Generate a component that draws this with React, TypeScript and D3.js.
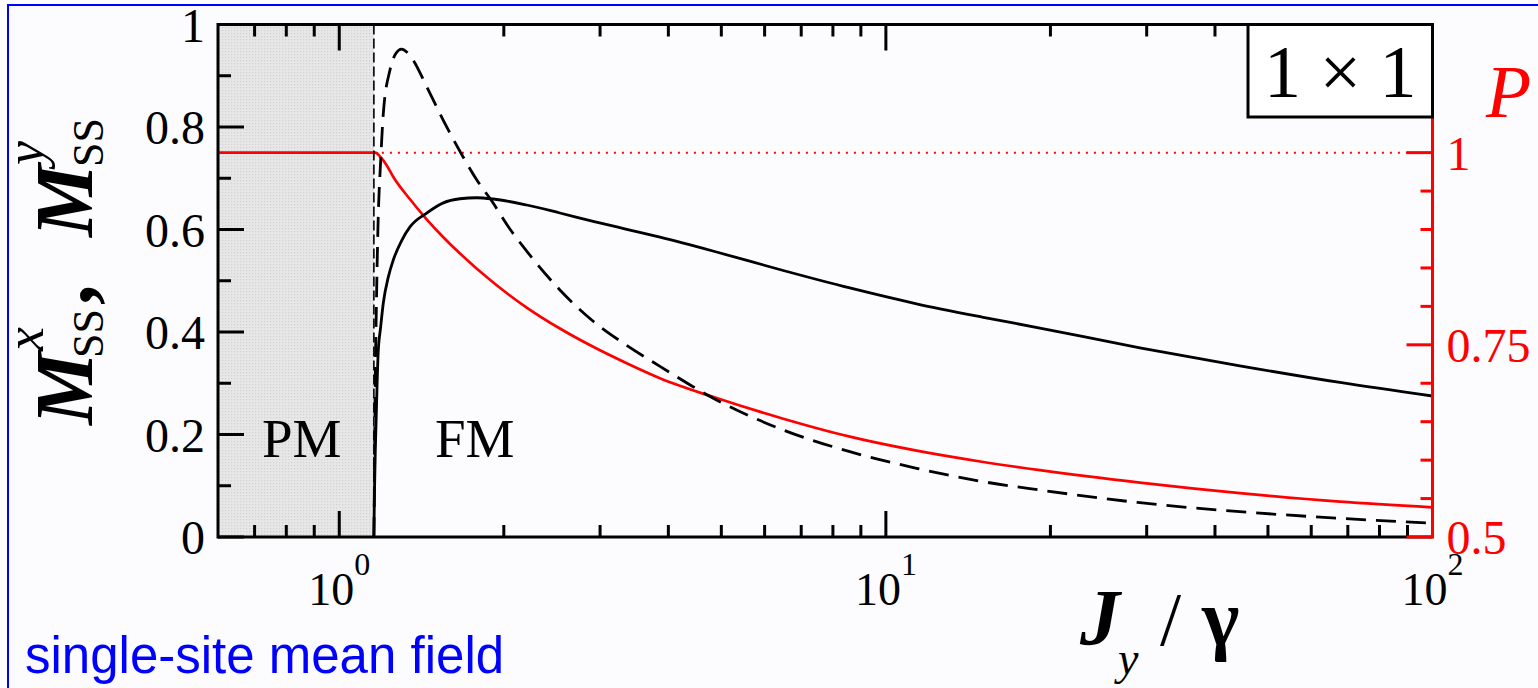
import React from 'react';
import * as d3 from 'd3';

const WIDTH = 1538;
const HEIGHT = 688;
const PLOT = { left: 218, right: 1432.5, top: 24.5, bottom: 537 };

// Horizontal axis: coupling ratio J_y / gamma (log scale)
const jDomain: [number, number] = [0.6, 100];
// Transition between the paramagnetic (PM) and ferromagnetic (FM) phases
const jCritical = 1.157;

// Steady-state magnetisation M^x_SS (solid black)
const mxJ = [1.157, 1.16, 1.164, 1.168, 1.178, 1.19, 1.204, 1.23, 1.255, 1.3, 1.347, 1.445, 1.55, 1.663, 1.784, 1.913, 2.202, 2.533, 2.914, 3.356, 3.861, 4.9, 6.49, 8.59, 11.38, 15.07, 19.13, 29.15, 44.41, 67.69, 100];
const mxValues = [0, 0.09, 0.17, 0.228, 0.359, 0.408, 0.457, 0.508, 0.54, 0.578, 0.605, 0.632, 0.652, 0.66, 0.662, 0.6595, 0.6478, 0.6322, 0.616, 0.6004, 0.585, 0.5561, 0.52, 0.4859, 0.455, 0.4287, 0.4078, 0.3692, 0.334, 0.3015, 0.2751];

// Steady-state magnetisation M^y_SS (dashed black)
const myJ = [1.157, 1.16, 1.162, 1.171, 1.178, 1.19, 1.204, 1.238, 1.27, 1.3, 1.33, 1.364, 1.445, 1.55, 1.684, 1.784, 1.9, 2.052, 2.202, 2.533, 2.914, 3.356, 3.861, 4.9, 6.49, 8.59, 11.38, 15.07, 19.13, 29.15, 44.41, 67.69, 100];
const myValues = [0, 0.12, 0.228, 0.49, 0.619, 0.73, 0.827, 0.911, 0.944, 0.952, 0.946, 0.931, 0.879, 0.813, 0.742, 0.697, 0.656, 0.601, 0.558, 0.482, 0.421, 0.374, 0.333, 0.2673, 0.2088, 0.1665, 0.1341, 0.1079, 0.0917, 0.0669, 0.0494, 0.0365, 0.0267];

// Purity P of the steady state (red, right axis)
const purityJ = [0.6, 1.162, 1.172, 1.187, 1.22, 1.255, 1.347, 1.445, 1.55, 1.663, 1.913, 2.202, 2.533, 2.914, 3.356, 3.861, 4.9, 6.49, 8.59, 11.38, 15.07, 19.13, 29.15, 44.41, 67.69, 100];
const purityValues = [1, 1, 0.9992, 0.995, 0.984, 0.9686, 0.9393, 0.9133, 0.89, 0.8687, 0.831, 0.7985, 0.7712, 0.7474, 0.726, 0.7065, 0.6807, 0.6539, 0.6305, 0.6123, 0.5976, 0.5869, 0.5707, 0.557, 0.5459, 0.5385];

// Axis ticks
const leftMajorTicks = [0, 0.2, 0.4, 0.6, 0.8, 1];
const leftMinorTicks = [0.1, 0.3, 0.5, 0.7, 0.9];
const leftTickLabels = ['0', '0.2', '0.4', '0.6', '0.8', '1'];
const rightMajorTicks = [0.5, 0.75, 1];
const rightTickLabels = ['0.5', '0.75', '1'];
const rightMinorTicks = [0.55, 0.6, 0.65, 0.7, 0.8, 0.85, 0.9, 0.95, 1.05, 1.1, 1.15];
const xDecadeExponents = [0, 1, 2];

const SERIF = "'Liberation Serif', 'Times New Roman', serif";
const SANS = "'Liberation Sans', Arial, sans-serif";
const RED = '#ff0000';

export default function App() {
  const x = d3.scaleLog().domain(jDomain).range([PLOT.left, PLOT.right]);
  const yM = d3.scaleLinear().domain([0, 1]).range([PLOT.bottom, PLOT.top]);
  // Right axis: P = 1 sits level with M = 0.75, P = 0.5 with M = 0
  const yP = d3.scaleLinear().domain([0.5, 0.5 + 2 / 3]).range([PLOT.bottom, PLOT.top]);

  const lineM = d3
    .line<[number, number]>()
    .x((d) => x(d[0]))
    .y((d) => yM(d[1]))
    .curve(d3.curveMonotoneX);
  const lineP = d3
    .line<[number, number]>()
    .x((d) => x(d[0]))
    .y((d) => yP(d[1]))
    .curve(d3.curveMonotoneX);

  const mxPath = lineM(mxJ.map((j, i) => [j, mxValues[i]] as [number, number])) || '';
  const myPath = lineM(myJ.map((j, i) => [j, myValues[i]] as [number, number])) || '';
  const pPath = lineP(purityJ.map((j, i) => [j, purityValues[i]] as [number, number])) || '';

  const xTicks = x.ticks();
  const isDecade = (v: number) => Math.abs(Math.log10(v) - Math.round(Math.log10(v))) < 1e-6;

  const xc = x(jCritical);
  const major = 26;
  const minor = 12;

  return (
    <svg
      width={WIDTH}
      height={HEIGHT}
      style={{ position: 'absolute', left: 0, top: 0, background: '#ffffff' }}
    >
      <defs>
        <pattern id="pm-dots" width={3} height={3} patternUnits="userSpaceOnUse">
          <rect width={3} height={3} fill="#e7e7e7" />
          <rect width={1.2} height={1.2} fill="#d2d2d2" />
        </pattern>
        <clipPath id="plot-clip">
          <rect x={PLOT.left} y={PLOT.top} width={PLOT.right - PLOT.left} height={PLOT.bottom - PLOT.top} />
        </clipPath>
      </defs>

      {/* outer frame */}
      <rect x={8} y={5} width={1600} height={800} fill="#fcfcff" stroke="#0000ff" strokeWidth={2} />

      {/* paramagnetic region */}
      <rect
        x={PLOT.left}
        y={PLOT.top}
        width={xc - PLOT.left}
        height={PLOT.bottom - PLOT.top}
        fill="url(#pm-dots)"
      />

      <g clipPath="url(#plot-clip)">
        {/* P = 1 reference */}
        <line
          x1={xc}
          x2={PLOT.right}
          y1={yP(1)}
          y2={yP(1)}
          stroke={RED}
          strokeWidth={2}
          strokeDasharray="2 6"
        />
        <path d={pPath} fill="none" stroke={RED} strokeWidth={2.7} />
        <path d={mxPath} fill="none" stroke="#000" strokeWidth={2.8} />
        <path d={myPath} fill="none" stroke="#000" strokeWidth={2.8} strokeDasharray="20 10" />
      </g>

      {/* phase boundary */}
      <line x1={xc} x2={xc} y1={PLOT.top} y2={PLOT.bottom} stroke="#000" strokeWidth={1.6} strokeDasharray="10 4" />

      {/* bottom and top ticks */}
      {xTicks.map((t) => {
        const len = isDecade(t) ? major : minor;
        const px = x(t);
        if (px <= PLOT.left + 1 || px >= PLOT.right - 1) return null;
        return (
          <g key={`xt-${t}`}>
            <line x1={px} x2={px} y1={PLOT.bottom} y2={PLOT.bottom - len} stroke="#000" strokeWidth={3} />
            <line x1={px} x2={px} y1={PLOT.top} y2={PLOT.top + len} stroke="#000" strokeWidth={3} />
          </g>
        );
      })}

      {/* left ticks */}
      {leftMajorTicks.map((t) => (
        <line key={`lm-${t}`} x1={PLOT.left} x2={PLOT.left + major} y1={yM(t)} y2={yM(t)} stroke="#000" strokeWidth={3} />
      ))}
      {leftMinorTicks.map((t) => (
        <line key={`ln-${t}`} x1={PLOT.left} x2={PLOT.left + minor + 1} y1={yM(t)} y2={yM(t)} stroke="#000" strokeWidth={3} />
      ))}

      {/* frame */}
      <line x1={PLOT.left} x2={PLOT.left} y1={PLOT.top - 1.5} y2={PLOT.bottom + 1.5} stroke="#000" strokeWidth={3} />
      <line x1={PLOT.left} x2={PLOT.right} y1={PLOT.top} y2={PLOT.top} stroke="#000" strokeWidth={3} />
      <line x1={PLOT.left} x2={PLOT.right} y1={PLOT.bottom} y2={PLOT.bottom} stroke="#000" strokeWidth={3} />

      {/* right axis (purity) */}
      {rightMajorTicks.map((t) => (
        <line key={`rm-${t}`} x1={PLOT.right - major} x2={PLOT.right} y1={yP(t)} y2={yP(t)} stroke={RED} strokeWidth={3} />
      ))}
      {rightMinorTicks.map((t) => (
        <line key={`rn-${t}`} x1={PLOT.right - minor} x2={PLOT.right} y1={yP(t)} y2={yP(t)} stroke={RED} strokeWidth={3} />
      ))}
      <line x1={PLOT.right} x2={PLOT.right} y1={PLOT.top} y2={PLOT.bottom + 1.5} stroke={RED} strokeWidth={3} />

      {/* system-size box */}
      <rect x={1248} y={PLOT.top} width={PLOT.right - 1248} height={117 - PLOT.top} fill="#ffffff" stroke="#000" strokeWidth={3} />
      <text x={(1248 + PLOT.right) / 2} y={97} textAnchor="middle" fontFamily={SERIF} fontSize={74} fill="#000">
        1 × 1
      </text>

      {/* left tick labels */}
      {leftMajorTicks.map((t, i) => (
        <text
          key={`ll-${t}`}
          x={PLOT.left - 13}
          y={yM(t) + 17}
          textAnchor="end"
          fontFamily={SERIF}
          fontSize={48}
          fill="#000"
        >
          {leftTickLabels[i]}
        </text>
      ))}

      {/* right tick labels */}
      {rightMajorTicks.map((t, i) => (
        <text
          key={`rl-${t}`}
          x={PLOT.right + 14}
          y={yP(t) + 17}
          textAnchor="start"
          fontFamily={SERIF}
          fontSize={48}
          fill={RED}
        >
          {rightTickLabels[i]}
        </text>
      ))}

      {/* bottom tick labels */}
      {xDecadeExponents.map((e) => (
        <text key={`xl-${e}`} x={x(Math.pow(10, e))} y={605} textAnchor="middle" fontFamily={SERIF} fill="#000">
          <tspan fontSize={46}>10</tspan>
          <tspan fontSize={32} dy={-30}>
            {e}
          </tspan>
        </text>
      ))}

      {/* right axis title */}
      <text x={1486} y={117} fontFamily={SERIF} fontStyle="italic" fontSize={74} fill={RED}>
        P
      </text>

      {/* phase labels */}
      <text x={262} y={457} fontFamily={SERIF} fontSize={55} fill="#000">
        PM
      </text>
      <text x={435} y={457} fontFamily={SERIF} fontSize={55} fill="#000">
        FM
      </text>

      {/* x-axis title */}
      <g fontFamily={SERIF} fill="#000">
        <text x={1080} y={645} fontSize={80} fontWeight="bold" fontStyle="italic">
          J
        </text>
        <text x={1118} y={674} fontSize={46} fontStyle="italic">
          y
        </text>
        <text x={1160} y={645} fontSize={76}>
          /
        </text>
        <text x={1202} y={645} fontSize={80} fontWeight="bold">
          γ
        </text>
      </g>

      {/* y-axis title */}
      <g transform="translate(92, 425) rotate(-90)" fontFamily={SERIF} fill="#000">
        <text x={0} y={0} fontSize={82} fontWeight="bold" fontStyle="italic">
          M
        </text>
        <text x={74} y={-49} fontSize={54} fontStyle="italic">
          x
        </text>
        <text x={67} y={11} fontSize={44}>
          SS
        </text>
        <text x={120} y={0} fontSize={82} fontWeight="bold">
          ,
        </text>
        <text x={188} y={0} fontSize={82} fontWeight="bold" fontStyle="italic">
          M
        </text>
        <text x={260} y={-49} fontSize={54} fontStyle="italic">
          y
        </text>
        <text x={258} y={11} fontSize={44}>
          SS
        </text>
      </g>

      {/* method caption */}
      <text x={25} y={673} fontFamily={SANS} fontSize={51} fill="#0000ff">
        single-site mean field
      </text>
    </svg>
  );
}
